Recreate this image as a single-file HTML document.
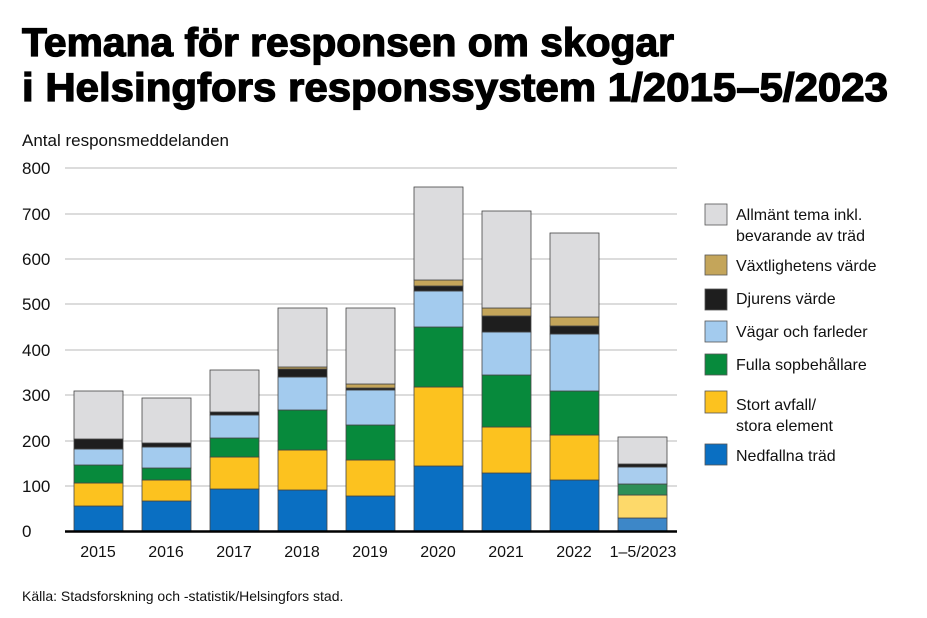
<!DOCTYPE html>
<html><head><meta charset="utf-8"><style>
html,body{margin:0;padding:0;background:#fff}
svg{display:block;font-family:"Liberation Sans",sans-serif}
</style></head><body>
<svg width="927" height="618" viewBox="0 0 927 618" xmlns="http://www.w3.org/2000/svg">
<rect width="927" height="618" fill="#fff"/>
<text x="22" y="56" font-size="40" font-weight="bold" textLength="652" lengthAdjust="spacingAndGlyphs" fill="#000" stroke="#000" stroke-width="1.3">Temana för responsen om skogar</text>
<text x="22" y="101" font-size="40" font-weight="bold" textLength="866" lengthAdjust="spacingAndGlyphs" fill="#000" stroke="#000" stroke-width="1.3">i Helsingfors responssystem 1/2015–5/2023</text>
<text x="22" y="146" font-size="17" fill="#111">Antal responsmeddelanden</text>
<g stroke="#c8c8c8" stroke-width="1.3">
<line x1="65" x2="677" y1="486" y2="486"/><line x1="65" x2="677" y1="441" y2="441"/><line x1="65" x2="677" y1="395" y2="395"/><line x1="65" x2="677" y1="350" y2="350"/><line x1="65" x2="677" y1="304" y2="304"/><line x1="65" x2="677" y1="259" y2="259"/><line x1="65" x2="677" y1="214" y2="214"/><line x1="65" x2="677" y1="168" y2="168"/>
</g>
<g font-size="17" fill="#111">
<text x="22" y="537">0</text><text x="22" y="492">100</text><text x="22" y="447">200</text><text x="22" y="401">300</text><text x="22" y="356">400</text><text x="22" y="310">500</text><text x="22" y="265">600</text><text x="22" y="220">700</text><text x="22" y="174">800</text>
</g>
<g stroke="#444" stroke-width="0.8">
<rect x="74" y="506" width="49" height="25" fill="#0a6fc2"/><rect x="74" y="483" width="49" height="23" fill="#fcc21f"/><rect x="74" y="465" width="49" height="18" fill="#078a3c"/><rect x="74" y="449" width="49" height="16" fill="#a3cbee"/><rect x="74" y="439" width="49" height="10" fill="#1e1e1e"/><rect x="74" y="391" width="49" height="48" fill="#dcdcde"/>
<rect x="142" y="501" width="49" height="30" fill="#0a6fc2"/><rect x="142" y="480" width="49" height="21" fill="#fcc21f"/><rect x="142" y="468" width="49" height="12" fill="#078a3c"/><rect x="142" y="447" width="49" height="21" fill="#a3cbee"/><rect x="142" y="443" width="49" height="4" fill="#1e1e1e"/><rect x="142" y="398" width="49" height="45" fill="#dcdcde"/>
<rect x="210" y="489" width="49" height="42" fill="#0a6fc2"/><rect x="210" y="457" width="49" height="32" fill="#fcc21f"/><rect x="210" y="438" width="49" height="19" fill="#078a3c"/><rect x="210" y="415" width="49" height="23" fill="#a3cbee"/><rect x="210" y="412" width="49" height="3" fill="#1e1e1e"/><rect x="210" y="370" width="49" height="42" fill="#dcdcde"/>
<rect x="278" y="490" width="49" height="41" fill="#0a6fc2"/><rect x="278" y="450" width="49" height="40" fill="#fcc21f"/><rect x="278" y="410" width="49" height="40" fill="#078a3c"/><rect x="278" y="377" width="49" height="33" fill="#a3cbee"/><rect x="278" y="369" width="49" height="8" fill="#1e1e1e"/><rect x="278" y="367" width="49" height="2" fill="#c4a55a"/><rect x="278" y="308" width="49" height="59" fill="#dcdcde"/>
<rect x="346" y="496" width="49" height="35" fill="#0a6fc2"/><rect x="346" y="460" width="49" height="36" fill="#fcc21f"/><rect x="346" y="425" width="49" height="35" fill="#078a3c"/><rect x="346" y="390" width="49" height="35" fill="#a3cbee"/><rect x="346" y="388" width="49" height="2" fill="#1e1e1e"/><rect x="346" y="384" width="49" height="4" fill="#c4a55a"/><rect x="346" y="308" width="49" height="76" fill="#dcdcde"/>
<rect x="414" y="466" width="49" height="65" fill="#0a6fc2"/><rect x="414" y="387" width="49" height="79" fill="#fcc21f"/><rect x="414" y="327" width="49" height="60" fill="#078a3c"/><rect x="414" y="291" width="49" height="36" fill="#a3cbee"/><rect x="414" y="286" width="49" height="5" fill="#1e1e1e"/><rect x="414" y="280" width="49" height="6" fill="#c4a55a"/><rect x="414" y="187" width="49" height="93" fill="#dcdcde"/>
<rect x="482" y="473" width="49" height="58" fill="#0a6fc2"/><rect x="482" y="427" width="49" height="46" fill="#fcc21f"/><rect x="482" y="375" width="49" height="52" fill="#078a3c"/><rect x="482" y="332" width="49" height="43" fill="#a3cbee"/><rect x="482" y="316" width="49" height="16" fill="#1e1e1e"/><rect x="482" y="308" width="49" height="8" fill="#c4a55a"/><rect x="482" y="211" width="49" height="97" fill="#dcdcde"/>
<rect x="550" y="480" width="49" height="51" fill="#0a6fc2"/><rect x="550" y="435" width="49" height="45" fill="#fcc21f"/><rect x="550" y="391" width="49" height="44" fill="#078a3c"/><rect x="550" y="334" width="49" height="57" fill="#a3cbee"/><rect x="550" y="326" width="49" height="8" fill="#1e1e1e"/><rect x="550" y="317" width="49" height="9" fill="#c4a55a"/><rect x="550" y="233" width="49" height="84" fill="#dcdcde"/>
<rect x="618" y="518" width="49" height="13" fill="#3d87c8"/><rect x="618" y="495" width="49" height="23" fill="#fdd96a"/><rect x="618" y="484" width="49" height="11" fill="#2e8f58"/><rect x="618" y="467" width="49" height="17" fill="#a9cdee"/><rect x="618" y="464" width="49" height="3" fill="#1e1e1e"/><rect x="618" y="437" width="49" height="27" fill="#dcdcde"/>
</g>
<line x1="65" x2="677" y1="531.5" y2="531.5" stroke="#000" stroke-width="2.5"/>
<g font-size="16" fill="#111" text-anchor="middle">
<text x="98" y="557">2015</text><text x="166" y="557">2016</text><text x="234" y="557">2017</text><text x="302" y="557">2018</text><text x="370" y="557">2019</text><text x="438" y="557">2020</text><text x="506" y="557">2021</text><text x="574" y="557">2022</text><text x="643" y="557">1–5/2023</text>
</g>
<g stroke="#555" stroke-width="0.8">
<rect x="705" y="204" width="22" height="21" fill="#dcdcde"/>
<rect x="705" y="255" width="22" height="20" fill="#c4a55a"/>
<rect x="705" y="289" width="22" height="21" fill="#1e1e1e"/>
<rect x="705" y="321" width="22" height="21" fill="#a3cbee"/>
<rect x="705" y="354" width="22" height="21" fill="#078a3c"/>
<rect x="705" y="391" width="22" height="22" fill="#fcc21f"/>
<rect x="705" y="444" width="22" height="21" fill="#0a6fc2"/>
</g>
<g font-size="16" fill="#111">
<text x="736" y="220">Allmänt tema inkl.</text>
<text x="736" y="241">bevarande av träd</text>
<text x="736" y="271">Växtlighetens värde</text>
<text x="736" y="304">Djurens värde</text>
<text x="736" y="337">Vägar och farleder</text>
<text x="736" y="370">Fulla sopbehållare</text>
<text x="736" y="410">Stort avfall/</text>
<text x="736" y="431">stora element</text>
<text x="736" y="461">Nedfallna träd</text>
</g>
<text x="22" y="601" font-size="14" fill="#111">Källa: Stadsforskning och -statistik/Helsingfors stad.</text>
</svg>
</body></html>
